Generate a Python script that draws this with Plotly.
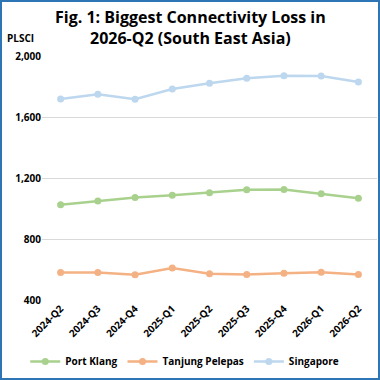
import plotly.graph_objects as go

quarters = ["2024-Q2", "2024-Q3", "2024-Q4", "2025-Q1", "2025-Q2", "2025-Q3", "2025-Q4", "2026-Q1", "2026-Q2"]
port_klang = [1025, 1050, 1072, 1087, 1104, 1123, 1125, 1097, 1067]
tanjung_pelepas = [580, 580, 565, 610, 572, 567, 576, 582, 567]
singapore = [1718, 1749, 1717, 1783, 1821, 1854, 1871, 1869, 1829]

series = [
    ("Port Klang", port_klang, "#A9D18E"),
    ("Tanjung Pelepas", tanjung_pelepas, "#F4B183"),
    ("Singapore", singapore, "#BDD7EE"),
]

FONT = "Open Sans"
fig = go.Figure()
for name, vals, col in series:
    fig.add_trace(go.Scatter(
        x=quarters, y=vals, name=name, mode="lines+markers",
        line=dict(color=col, width=2.5), marker=dict(color=col, size=7),
    ))

L, R, T, B = 42, 3, 56, 80
W = H = 380
pw, ph = W - L - R, H - T - B

fig.update_layout(
    width=W, height=H,
    margin=dict(l=L, r=R, t=T, b=B),
    paper_bgcolor="white", plot_bgcolor="white",
    font=dict(family=FONT, color="#000000"),
    showlegend=True,
    legend=dict(orientation="h", x=-0.05, xanchor="left", y=-(B - 4) / ph, yanchor="bottom",
                font=dict(size=10, family=FONT, weight="bold"), itemwidth=30, tracegroupgap=0),
    xaxis=dict(type="category", tickangle=-45, showgrid=False, showline=False, ticks="",
               tickfont=dict(size=10, family=FONT, weight="bold"), range=[-0.5, 8.5]),
    yaxis=dict(range=[400, 2000], tickvals=[400, 800, 1200, 1600, 2000],
               ticktext=["400", "800", "1,200", "1,600", "2,000"],
               showgrid=True, gridcolor="#D9D9D9", gridwidth=1.3, zeroline=False,
               showline=False, ticks="", tickfont=dict(size=10, family=FONT, weight="bold")),
    annotations=[
        dict(text="<b>Fig. 1: Biggest Connectivity Loss in<br>2026-Q2 (South East Asia)</b>",
             xref="paper", yref="paper", x=(190 - L) / pw, y=1 + (T - 4) / ph,
             xanchor="center", yanchor="top", showarrow=False,
             font=dict(size=16, family=FONT, color="#000000")),
        dict(text="<b>PLSCI</b>", xref="paper", yref="paper",
             x=-37 / pw, y=1 + 9 / ph, xanchor="left", yanchor="bottom",
             showarrow=False, font=dict(size=10, family=FONT)),
    ],
    shapes=[dict(type="rect", xref="paper", yref="paper",
                 x0=-(L - 1) / pw, x1=1 + (R - 1) / pw, y0=-(B - 1) / ph, y1=1 + (T - 1) / ph,
                 line=dict(color="#2E75B6", width=2), layer="above")],
)

fig.write_html("out.html")
